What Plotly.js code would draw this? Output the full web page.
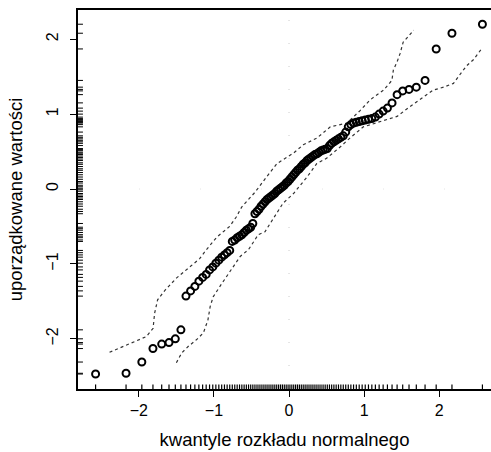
<!DOCTYPE html>
<html>
<head>
<meta charset="utf-8">
<script src="https://cdn.plot.ly/plotly-3.0.1.min.js"></script>
<style>html,body{margin:0;padding:0;background:#fff;}#chart{width:491px;height:452px;}</style>
</head>
<body>
<div id="chart"></div>
<script>
// theoretical normal quantiles (n = 100)
const quantX = [-2.5758,-2.1701,-1.9600,-1.8119,-1.6954,-1.5982,-1.5141,-1.4395,-1.3722,-1.3106,
  -1.2536,-1.2004,-1.1503,-1.1031,-1.0581,-1.0152,-0.9741,-0.9346,-0.8965,-0.8596,
  -0.8239,-0.7892,-0.7554,-0.7225,-0.6903,-0.6588,-0.6280,-0.5978,-0.5681,-0.5388,
  -0.5101,-0.4817,-0.4538,-0.4261,-0.3989,-0.3719,-0.3451,-0.3186,-0.2924,-0.2663,
  -0.2404,-0.2147,-0.1891,-0.1637,-0.1383,-0.1130,-0.0878,-0.0627,-0.0376,-0.0125,
  0.0125,0.0376,0.0627,0.0878,0.1130,0.1383,0.1637,0.1891,0.2147,0.2404,
  0.2663,0.2924,0.3186,0.3451,0.3719,0.3989,0.4261,0.4538,0.4817,0.5101,
  0.5388,0.5681,0.5978,0.6280,0.6588,0.6903,0.7225,0.7554,0.7892,0.8239,
  0.8596,0.8965,0.9346,0.9741,1.0152,1.0581,1.1031,1.1503,1.2004,1.2536,
  1.3106,1.3722,1.4395,1.5141,1.5982,1.6954,1.8119,1.9600,2.1701,2.5758];
// ordered sample values
const sortedY = [-2.47,-2.46,-2.31,-2.13,-2.07,-2.05,-2.00,-1.88,-1.43,-1.36,
  -1.30,-1.23,-1.18,-1.14,-1.08,-1.04,-0.99,-0.95,-0.91,-0.88,
  -0.85,-0.82,-0.70,-0.68,-0.65,-0.63,-0.61,-0.58,-0.55,-0.53,
  -0.51,-0.46,-0.33,-0.30,-0.27,-0.23,-0.20,-0.17,-0.14,-0.12,
  -0.10,-0.08,-0.06,-0.03,-0.01,0.01,0.03,0.05,0.08,0.10,
  0.13,0.16,0.19,0.22,0.25,0.27,0.30,0.33,0.35,0.38,
  0.40,0.42,0.44,0.46,0.47,0.49,0.51,0.52,0.53,0.54,
  0.58,0.61,0.63,0.65,0.67,0.69,0.71,0.76,0.83,0.86,
  0.88,0.89,0.90,0.91,0.92,0.93,0.94,0.96,1.00,1.04,
  1.08,1.15,1.26,1.31,1.33,1.36,1.45,1.87,2.08,2.20];
// upper envelope
const upperX = [-2.39,-2.14,-1.90,-1.81,-1.79,-1.75,-1.65,-1.50,-1.36,-1.19,-1.10,-1.03,-0.96,-0.79,-0.70,-0.63,-0.52,-0.45,-0.30,-0.16,0.06,0.19,0.37,0.55,0.77,0.95,1.08,1.26,1.37,1.39,1.44,1.48,1.52,1.66];
const upperY = [-2.18,-2.07,-1.97,-1.86,-1.66,-1.48,-1.35,-1.19,-1.07,-0.93,-0.81,-0.72,-0.64,-0.50,-0.37,-0.24,-0.12,-0.04,0.16,0.34,0.48,0.59,0.68,0.83,0.88,1.05,1.19,1.32,1.45,1.59,1.70,1.81,1.96,2.12];
// lower envelope
const lowerX = [-1.50,-1.43,-1.34,-1.23,-1.14,-1.08,-1.05,-1.01,-0.92,-0.83,-0.74,-0.65,-0.54,-0.48,-0.41,-0.32,-0.21,-0.08,0.06,0.24,0.37,0.50,0.68,0.81,0.99,1.21,1.44,1.61,1.79,1.92,2.06,2.19,2.30,2.37,2.46,2.57];
const lowerY = [-2.32,-2.19,-2.10,-2.01,-1.92,-1.75,-1.57,-1.44,-1.30,-1.17,-1.04,-0.90,-0.81,-0.72,-0.61,-0.57,-0.39,-0.19,-0.06,0.16,0.34,0.41,0.56,0.68,0.83,0.90,0.97,1.10,1.23,1.32,1.36,1.41,1.56,1.65,1.73,1.88];

const xTicks = [-2,-1,0,1,2];
const yTicks = [-2,-1,0,1,2];
const xTitle = 'kwantyle rozkładu normalnego';
const yTitle = 'uporządkowane wartości';

const bandLine = {color:'#333', width:1.2, dash:'dot'};
const traces = [
  {x:upperX, y:upperY, mode:'lines', line:bandLine, hoverinfo:'skip'},
  {x:lowerX, y:lowerY, mode:'lines', line:bandLine, hoverinfo:'skip'},
  {x:quantX, y:sortedY, mode:'markers',
   marker:{symbol:'circle-open', size:7, color:'#000', line:{width:2, color:'#000'}}}
];

const shapes = [];
// rug on y axis (sample values)
sortedY.forEach(v => shapes.push({type:'line', xref:'paper', yref:'y', x0:0, x1:0.012, y0:v, y1:v, line:{color:'#000', width:1}}));
// rug on x axis (quantiles)
quantX.forEach(v => shapes.push({type:'line', xref:'x', yref:'paper', x0:v, x1:v, y0:0, y1:0.012, line:{color:'#000', width:1.2}}));
// faint zero reference lines
shapes.push({type:'line', xref:'x', yref:'paper', x0:0, x1:0, y0:0, y1:1, line:{color:'#ccc', width:1, dash:'1px,22px'}, layer:'below'});
shapes.push({type:'line', xref:'paper', yref:'y', x0:0, x1:1, y0:0, y1:0, line:{color:'#e4e4e4', width:1, dash:'1px,60px'}, layer:'below'});

const fam = '"Liberation Sans", Arial, sans-serif';
const layout = {
  width:491, height:452,
  margin:{l:78, r:0, t:10, b:63},
  paper_bgcolor:'#fff', plot_bgcolor:'#fff',
  showlegend:false,
  font:{family:fam, color:'#000'},
  shapes:shapes,
  xaxis:{range:[-2.81,2.69], tickvals:xTicks, ticktext:xTicks.map(v=>v<0?'\u2212'+Math.abs(v):String(v)),
    showgrid:false, zeroline:false, showline:true, linecolor:'#000', linewidth:2, mirror:true,
    ticks:'outside', ticklen:6, tickwidth:1, tickcolor:'#000',
    tickfont:{size:16, family:fam, color:'#000'},
    title:{text:xTitle, font:{size:18.5, family:fam, color:'#000'}, standoff:15}},
  yaxis:{range:[-2.67,2.39], tickvals:yTicks, ticktext:yTicks.map(v=>v<0?'\u2212'+Math.abs(v):String(v)),
    tickangle:-90, ticklabelstandoff:6,
    showgrid:false, zeroline:false, showline:true, linecolor:'#000', linewidth:2, mirror:false,
    ticks:'outside', ticklen:6, tickwidth:1, tickcolor:'#000',
    tickfont:{size:16, family:fam, color:'#000'},
    title:{text:yTitle, font:{size:18.5, family:fam, color:'#000'}, standoff:16}}
};
Plotly.newPlot('chart', traces, layout, {displayModeBar:false, staticPlot:true});
</script>
</body>
</html>
